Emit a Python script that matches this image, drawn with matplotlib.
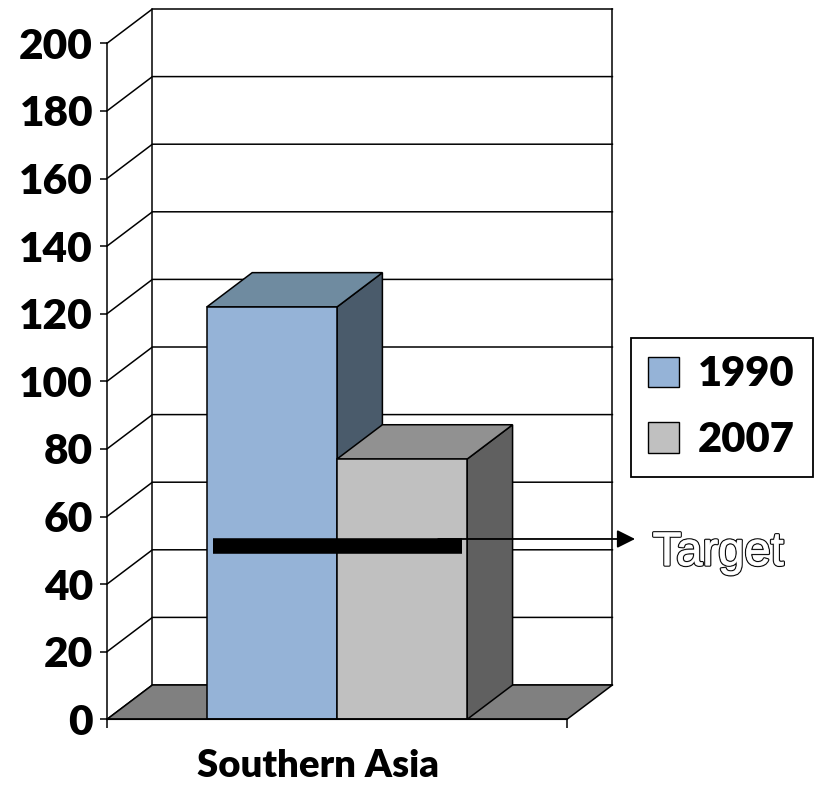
import matplotlib
matplotlib.use("Agg")
import matplotlib.pyplot as plt
from matplotlib.patches import Polygon, Rectangle, Patch
from matplotlib.lines import Line2D
import matplotlib.patheffects as pe

# ---------------- data ----------------
category = "Southern Asia"
series_names = ["1990", "2007"]
values = [122, 77]
target = 41
yticks = list(range(0, 201, 20))
ytick_labels = [str(t) for t in yticks]

# ---------------- style ----------------
front_colors = ["#95B3D7", "#C0C0C0"]
top_colors = ["#6F8BA0", "#919191"]
side_colors = ["#4A5B6B", "#606060"]
floor_color = "#808080"
FONT = ["Lato", "DejaVu Sans"]
W, H = 817, 787
DX = 45.4 / 460.0      # depth offset in x data units
DY = 34.3 / 3.38       # depth offset in y data units
BAR_W = 0.283
LW = 1.1

fig = plt.figure(figsize=(W / 100, H / 100), dpi=100)
ax = fig.add_axes([107 / W, (H - 719.3) / H, 460 / W, 676 / H])
ax.set_xlim(0, 1)
ax.set_ylim(0, 200)
ax.patch.set_alpha(0)

# back wall, side wall gridlines
for t in yticks:
    ax.add_line(Line2D([0, DX, 1 + DX], [t, t + DY, t + DY], color="black",
                       lw=LW, zorder=1, clip_on=False))
for xb in (DX, 1 + DX):
    ax.add_line(Line2D([xb, xb], [DY, 200 + DY], color="black", lw=LW,
                       zorder=1, clip_on=False))

# floor
ax.add_patch(Polygon([(0, 0), (1, 0), (1 + DX, DY), (DX, DY)], closed=True,
                     facecolor=floor_color, edgecolor="black", lw=LW,
                     zorder=2, clip_on=False))

# bars (3D look)
n = len(values)
x_start = 0.5 - BAR_W * n / 2
for i, v in enumerate(values):
    x0 = x_start + i * BAR_W
    x1 = x0 + BAR_W
    ax.add_patch(Polygon([(x1, 0), (x1 + DX, DY), (x1 + DX, v + DY), (x1, v)],
                         closed=True, facecolor=side_colors[i], edgecolor="black",
                         lw=LW, zorder=3 + i, clip_on=False))
    ax.add_patch(Polygon([(x0, v), (x1, v), (x1 + DX, v + DY), (x0 + DX, v + DY)],
                         closed=True, facecolor=top_colors[i], edgecolor="black",
                         lw=LW, zorder=3 + i, clip_on=False))
    ax.add_patch(Rectangle((x0, 0), BAR_W, v, facecolor=front_colors[i],
                           edgecolor="black", lw=LW, zorder=3 + i, clip_on=False))

# target line (drawn on back plane)
ty = target + DY
ax.add_line(Line2D([0.231, 0.771], [ty, ty], color="black", lw=11.2,
                   solid_capstyle="butt", zorder=6, clip_on=False))
ay = ty + 2.2
ax.annotate("", xy=(1.148, ay), xytext=(0.72, ay),
            arrowprops=dict(arrowstyle="-|>,head_length=1.1,head_width=0.55",
                            color="black", lw=1.3, shrinkA=0, shrinkB=0,
                            mutation_scale=10),
            zorder=6, annotation_clip=False)
ax.text(1.186, 45.6, "Target", ha="left", va="baseline", fontsize=34,
        family=["Liberation Sans", "DejaVu Sans"], color="white", clip_on=False,
        path_effects=[pe.withStroke(linewidth=2.2, foreground="black"),
                      pe.withStroke(linewidth=0.8, foreground="#9a9a9a"),
                      pe.Normal()])

# axes: spines and ticks
for s in ("top", "right"):
    ax.spines[s].set_visible(False)
for s in ("left", "bottom"):
    ax.spines[s].set_linewidth(LW)
    ax.spines[s].set_zorder(7)
ax.set_yticks(yticks)
ax.set_yticklabels(ytick_labels, fontsize=30.5, fontweight="heavy", family=FONT)
ax.tick_params(axis="y", direction="out", length=5, width=LW, pad=5)
ax.set_xticks([0, 1])
ax.set_xticklabels(["", ""])
ax.tick_params(axis="x", direction="out", length=6.5, width=LW)
ax.set_xlabel(category, fontsize=27.5, fontweight="heavy", family=FONT)
ax.xaxis.set_label_coords(0.458, -0.085)
ax.xaxis.label.set_va("baseline")

# legend
handles = [Patch(facecolor=c, edgecolor="black", lw=1.0) for c in front_colors]
leg = ax.legend(handles, series_names, loc="upper left",
                bbox_to_anchor=(630.7 / W, 1 - 338 / H),
                bbox_transform=fig.transFigure, borderaxespad=0,
                prop=dict(size=30, weight="heavy", family=FONT),
                handlelength=0.75, handleheight=0.75, handletextpad=0.45,
                labelspacing=0.66, borderpad=0.42, fancybox=False,
                framealpha=1, edgecolor="black")
leg.get_frame().set_linewidth(1.3)
leg.set_zorder(8)

fig.savefig("out.png", dpi=100)
